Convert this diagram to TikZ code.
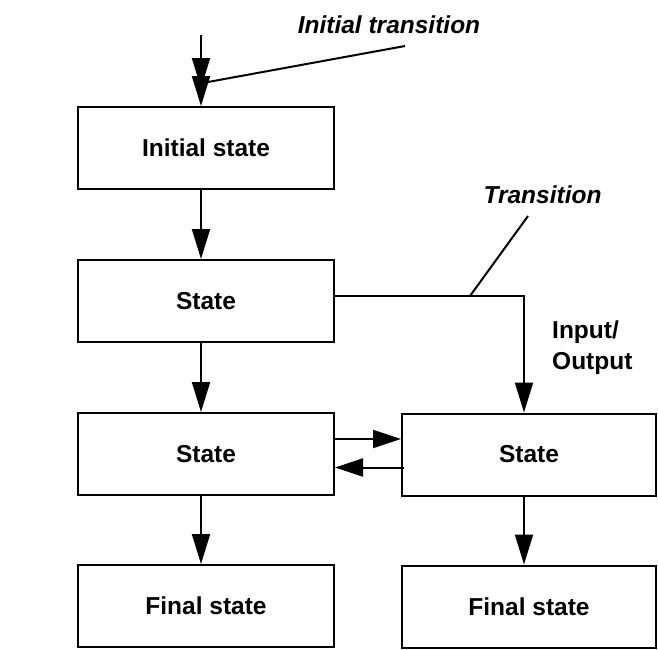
\documentclass[tikz,border=0pt]{standalone}
\usepackage{fontspec}
\setmainfont{Liberation Sans}
\usetikzlibrary{arrows.meta}
\begin{document}
\begin{tikzpicture}[x=1pt,y=-1pt,
  every node/.style={font=\fontsize{24.5}{31}\selectfont\bfseries},
  statebox/.style={draw,line width=2pt,minimum height=82pt,inner sep=0pt},
  conn/.style={line width=2pt},
  arr/.style={conn,-{Triangle[length=30pt,width=18pt]}},
  harr/.style={conn,-{Triangle[length=28pt,width=18pt]}},
  lbl/.style={font=\fontsize{24.5}{31}\selectfont\bfseries\itshape,inner sep=0pt}]
\useasboundingbox (0,0) rectangle (658,649);
% states
\node[statebox,minimum width=256pt] (init) at (206,148) {Initial state};
\node[statebox,minimum width=256pt] (s1) at (206,301) {State};
\node[statebox,minimum width=256pt] (s2) at (206,454) {State};
\node[statebox,minimum width=254pt] (s3) at (529,454.5) {State};
\node[statebox,minimum width=256pt] (f1) at (206,606) {Final state};
\node[statebox,minimum width=254pt] (f2) at (529,606.5) {Final state};
% labels
\node[lbl,anchor=base] (itl) at (389,33) {Initial transition};
\node[lbl,anchor=base] (tl) at (542.5,203) {Transition};
\node[anchor=north west,align=left,inner sep=0pt] (io) at (552,321) {Input/\\Output};
% coordinates
\coordinate (itop) at (201,35);
\coordinate (imid) at (201,88);
\coordinate (ipt) at (208,82);
\coordinate (iend) at (405,46);
\coordinate (tc) at (524,296);
\coordinate (tpt) at (470,296);
\coordinate (tend) at (528,216);
% initial transition
\draw[arr] (itop) -- (imid);
\draw[arr] (itop) -- (itop |- init.north);
\draw[conn] (ipt) -- (iend);
% vertical transitions
\draw[arr] (init.south -| itop) -- (s1.north -| itop);
\draw[arr] (s1.south -| itop) -- (s2.north -| itop);
\draw[arr] (s2.south -| itop) -- (f1.north -| itop);
\draw[arr] (s3.south -| tc) -- (f2.north -| tc);
% transition with input/output
\draw[arr] (s1.east |- tc) -- (tc) -- (tc |- s3.north);
\draw[conn] (tpt) -- (tend);
% horizontal pair
\draw[harr] ([yshift=15pt]s2.east) -- ([yshift=15pt]s2.east -| s3.west);
\draw[harr] ([yshift=-13pt,xshift=3pt]s3.west) -- ([yshift=-13pt]s3.west -| s2.east);
\end{tikzpicture}
\end{document}
